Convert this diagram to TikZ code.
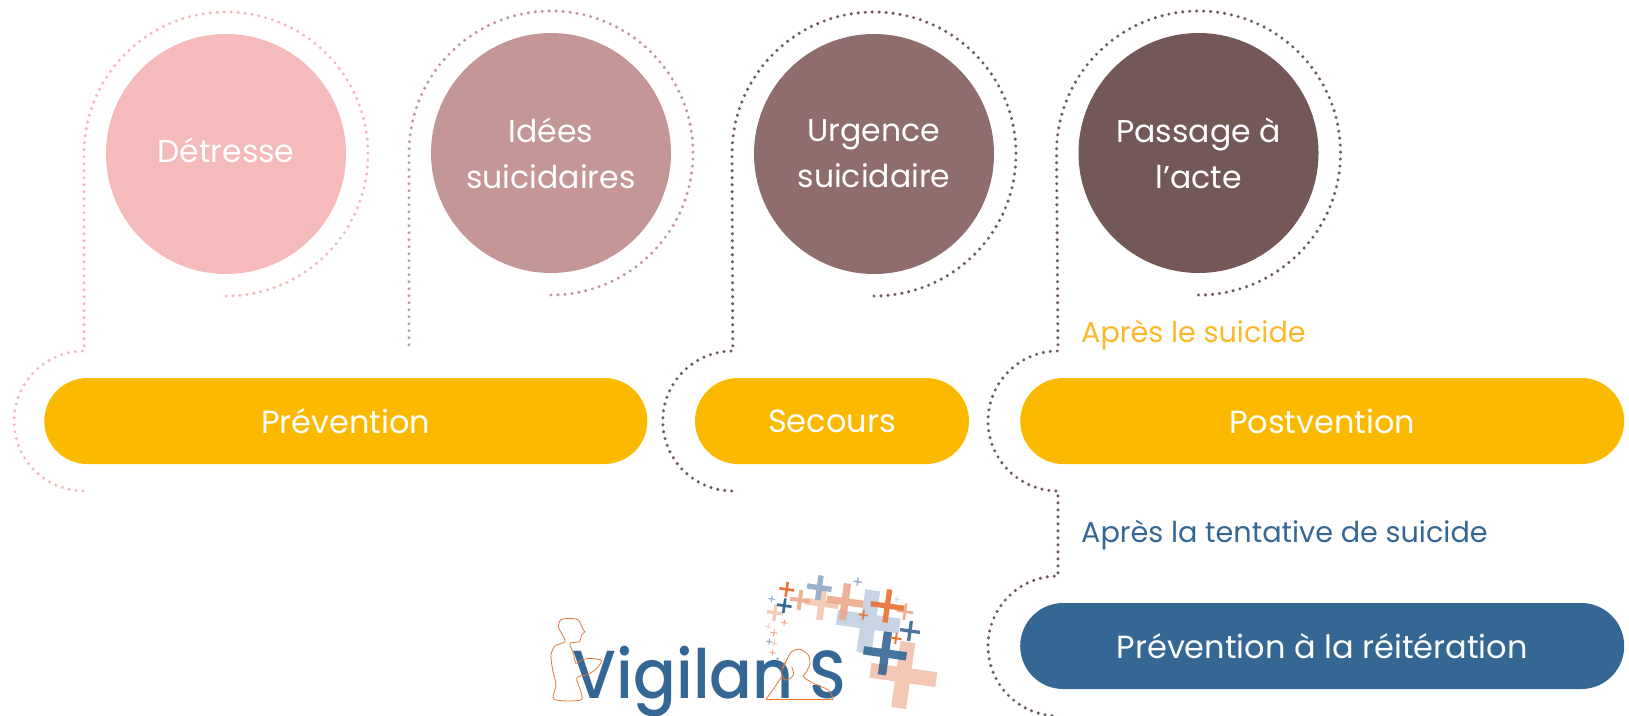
\documentclass[tikz,border=0pt]{standalone}
\usepackage{fontspec}
\setmainfont{Poppins}
\newfontfamily\logofont{Poppins Medium}
\usetikzlibrary{calc}
\definecolor{pinkA}{HTML}{F5BABA}
\definecolor{pinkB}{HTML}{C49696}
\definecolor{pinkC}{HTML}{8F6D6D}
\definecolor{pinkD}{HTML}{745757}
\definecolor{gold}{HTML}{FBBA00}
\definecolor{goldtext}{HTML}{FBB82A}
\definecolor{navy}{HTML}{356794}
\definecolor{peach}{HTML}{EBA98A}
\definecolor{rust}{HTML}{E8763A}
\definecolor{mist}{HTML}{8FA9C6}
\tikzset{
  bubble/.style={circle,minimum size=240pt,inner sep=0pt,text=white,align=center,font=\fontsize{31.5}{46}\selectfont},
  pill/.style={rectangle,rounded corners=43pt,minimum height=86pt,inner sep=0pt,text=white,font=\fontsize{32}{38}\selectfont},
  dots/.style={line width=3.4pt,line cap=round,dash pattern=on 0pt off 7pt},
  note/.style={anchor=west,inner sep=0pt,font=\fontsize{28.7}{34}\selectfont},
  logotext/.style={anchor=base west,inner sep=0pt,text=navy,font=\logofont\fontsize{68}{68}\selectfont},
  outline/.style={draw=rust!80!brown,line width=0.8pt}
}
\begin{document}
\begin{tikzpicture}[x=1pt,y=1pt]
\useasboundingbox (0,0) rectangle (1629,-715);
% Circles
\node[bubble,fill=pinkA] (c1) at (226,-154) {\raisebox{7pt}{Détresse}};
\node[bubble,fill=pinkB] (c2) at (551,-153) {Idées\\suicidaires};
\node[bubble,fill=pinkC] (c3) at (874,-154) {Urgence\\suicidaire};
\node[bubble,fill=pinkD] (c4) at (1198.5,-153) {Passage à\\l’acte};
% Bars
\node[pill,fill=gold,minimum width=603pt] (p1) at (345.8,-421) {Prévention};
\node[pill,fill=gold,minimum width=274pt] (p2) at (832,-421) {Secours};
\node[pill,fill=gold,minimum width=604pt] (p3) at (1322.2,-421) {Postvention};
\node[pill,fill=navy,minimum width=604pt] (p4) at (1322.2,-646) {Prévention à la réitération};
% Labels
\node[note,text=goldtext] (n1) at (1081,-335) {Après le suicide};
\node[note,text=navy] (n2) at (1081,-535) {Après la tentative de suicide};
% Dotted lines
\draw[dots,pinkA] ($(c1.center)+(0,-142)$) arc[start angle=-90,end angle=180,radius=142]
  -- ($(p1.west)+(40,70)$) arc[start angle=90,end angle=274,radius=70];
\draw[dots,pinkB] ($(c2.center)+(0,-142)$) arc[start angle=-90,end angle=180,radius=142]
  -- ++(0,-193);
\draw[dots,pinkD] ($(c3.center)+(0,-142)$) arc[start angle=-90,end angle=180,radius=142]
  -- ($(p2.west)+(38,70)$) arc[start angle=90,end angle=274,radius=70];
\draw[dots,pinkD] ($(c4.center)+(0,-142)$) arc[start angle=-90,end angle=180,radius=142]
  -- ($(p3.west)+(38,70)$) arc[start angle=90,end angle=270,radius=70]
  -- ($(p4.west)+(38,70)$) arc[start angle=90,end angle=270,radius=70];
% Logo
\begin{scope}[shift={(530,-560)},x=0.3333pt,y=-0.3333pt]
  \foreach \px/\py/\arm/\thick/\col/\op in {
    1120/345/100/45/peach/.65, 1015/185/95/45/mist/.5, 945/125/55/22/peach/.9,
    875/130/50/20/peach/.6, 868/83/37/16/mist/.9, 810/120/30/12/peach/.9,
    735/158/25/10/peach/.6, 1125/155/25/8/peach/.9, 1072/138/50/16/rust/.95,
    1065/280/65/25/navy/.9, 1000/165/14/5/rust/1, 770/88/22/8/rust/1,
    763/137/22/8/navy/1, 725/117/10/3/mist/1, 983/65/12/4/mist/1,
    1100/118/10/3/mist/.4, 1140/213/30/10/navy/.9, 1098/235/17/6/rust/1,
    763/188/9/3/peach/1, 732/218/11/3/peach/1, 715/200/9/3/peach/.5,
    718/245/9/3/mist/1, 733/250/9/3/peach/.6, 728/278/9/3/peach/1, 743/296/4/2/mist/1}
  {\fill[\col,opacity=\op,rotate around={-8:(\px,\py)}]
     (\px-\arm,\py-\thick/2) rectangle (\px+\arm,\py+\thick/2)
     (\px-\thick/2,\py-\arm) rectangle (\px+\thick/2,\py-\thick/2)
     (\px-\thick/2,\py+\thick/2) rectangle (\px+\thick/2,\py+\arm);}
  \node[logotext] (w1) at (128,417) {\scalebox{.93}[1]{Vigilan}};
  \node[logotext] (w2) at (838,417) {\scalebox{.9}[1]{S}};
  % Reader
  \draw[outline] plot[smooth cycle,tension=.45] coordinates {(72,418) (78,375) (68,330) (63,285) (75,258) (105,245) (95,220) (85,200) (92,180) (115,175) (145,180) (160,210) (165,215) (155,225) (148,245) (120,250) (130,280) (138,310) (155,300) (180,295) (215,302) (195,330) (170,345) (140,355) (155,418)};
  % Caller
  \draw[outline] plot[smooth,tension=.45] coordinates {(708,418) (735,380) (755,350)};
  \draw[outline] plot[smooth,tension=.45] coordinates {(760,325) (770,300) (785,275) (810,268) (835,285) (840,310) (830,335) (820,350) (850,370) (895,390) (910,418)};
  \draw[outline] plot[smooth,tension=.6] coordinates {(770,300) (755,330) (765,360) (790,345) (785,320)};
  \draw[outline] (708,418) -- (910,418);
\end{scope}
\end{tikzpicture}
\end{document}
